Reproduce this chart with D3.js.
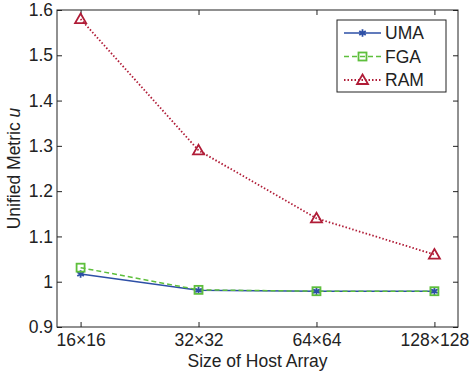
<!DOCTYPE html>
<html>
<head>
<meta charset="utf-8">
<script src="https://cdn.jsdelivr.net/npm/d3@7"></script>
<style>
body { margin: 0; background: #fff; }
text { font-family: "Liberation Sans", Arial, sans-serif; fill: #222; }
</style>
</head>
<body>
<div id="chart"></div>
<script>
var categories = ["16×16", "32×32", "64×64", "128×128"];
var umaValues = [1.017, 0.981, 0.979, 0.979];
var fgaValues = [1.031, 0.982, 0.979, 0.979];
var ramValues = [1.58, 1.29, 1.14, 1.06];
var yTicks = [0.9, 1, 1.1, 1.2, 1.3, 1.4, 1.5, 1.6];

var W = 470, H = 372;
var fs = "17.5px";
var margin = {top: 10, right: 12, bottom: 45, left: 57},
    width = W - margin.left - margin.right,
    height = H - margin.top - margin.bottom;

var svg = d3.select("#chart").append("svg")
    .attr("width", W).attr("height", H)
  .append("g")
    .attr("transform", "translate(" + margin.left + "," + margin.top + ")");

var x = d3.scaleLinear().domain([-0.2, categories.length - 0.8]).range([0, width]);
var y = d3.scaleLinear().domain([0.9, 1.6]).range([height, 0]);

// axes with inward ticks on all sides
var fmt = function(d) { return d3.format("")(+d.toFixed(1)); };
svg.append("g")
    .attr("transform", "translate(0," + height + ")")
    .call(d3.axisBottom(x).tickValues(d3.range(categories.length))
        .tickFormat(function(i) { return categories[i]; })
        .tickSize(-5).tickSizeOuter(0).tickPadding(7))
    .call(function(g) { g.select(".domain").remove(); })
    .selectAll("text").style("font-size", fs);
svg.append("g")
    .call(d3.axisTop(x).tickValues(d3.range(categories.length))
        .tickFormat("").tickSize(-5).tickSizeOuter(0))
    .call(function(g) { g.select(".domain").remove(); });
svg.append("g")
    .call(d3.axisLeft(y).tickValues(yTicks).tickFormat(fmt)
        .tickSize(-5).tickSizeOuter(0).tickPadding(4))
    .call(function(g) { g.select(".domain").remove(); })
    .selectAll("text").style("font-size", fs);
svg.append("g")
    .attr("transform", "translate(" + width + ",0)")
    .call(d3.axisRight(y).tickValues(yTicks).tickFormat("")
        .tickSize(-5).tickSizeOuter(0))
    .call(function(g) { g.select(".domain").remove(); });
svg.selectAll(".tick line").attr("stroke", "#222");

svg.append("rect")
    .attr("width", width).attr("height", height)
    .attr("fill", "none").attr("stroke", "#222").attr("stroke-width", 1);

// labels
svg.append("text")
    .attr("x", width / 2).attr("y", height + 40)
    .attr("text-anchor", "middle").style("font-size", fs)
    .text("Size of Host Array");
var yl = svg.append("text")
    .attr("transform", "translate(-37," + (height / 2) + ") rotate(-90)")
    .attr("text-anchor", "middle").style("font-size", fs);
yl.append("tspan").text("Unified Metric ");
yl.append("tspan").style("font-style", "italic").text("u");

var series = [
    {name: "UMA", values: umaValues, color: "#2d4fa6", dash: null, marker: "star"},
    {name: "FGA", values: fgaValues, color: "#5ebf3c", dash: "5,3", marker: "square"},
    {name: "RAM", values: ramValues, color: "#b01c37", dash: "1.5,2", marker: "triangle"}
];

var line = d3.line()
    .x(function(d, i) { return x(i); })
    .y(function(d) { return y(d); });

function drawMarker(g, s, cx, cy) {
    if (s.marker == "star") {
        g.append("path")
            .attr("d", d3.symbol().type(d3.symbolAsterisk).size(40)())
            .attr("transform", "translate(" + cx + "," + cy + ")")
            .attr("fill", "none").attr("stroke", s.color).attr("stroke-width", 1.8);
    } else if (s.marker == "square") {
        g.append("rect")
            .attr("x", cx - 4).attr("y", cy - 4).attr("width", 8).attr("height", 8)
            .attr("fill", "none").attr("stroke", s.color).attr("stroke-width", 1.8);
    } else {
        g.append("path")
            .attr("d", "M0,-5.5L5.5,4L-5.5,4Z")
            .attr("transform", "translate(" + cx + "," + cy + ")")
            .attr("fill", "none").attr("stroke", s.color).attr("stroke-width", 1.8);
    }
}

series.forEach(function(s) {
    svg.append("path")
        .datum(s.values)
        .attr("fill", "none")
        .attr("stroke", s.color)
        .attr("stroke-width", s.name == "RAM" ? 1.8 : 1.5)
        .attr("stroke-dasharray", s.dash)
        .attr("d", line);
});
series.forEach(function(s) {
    var g = svg.append("g");
    s.values.forEach(function(v, i) { drawMarker(g, s, x(i), y(v)); });
});

// legend
var lg = svg.append("g").attr("transform", "translate(" + (337 - margin.left) + "," + (20 - margin.top) + ")");
lg.append("rect").attr("width", 109).attr("height", 72)
    .attr("fill", "#fff").attr("stroke", "#222").attr("stroke-width", 1);
series.forEach(function(s, i) {
    var ly = 13 + i * 23.5;
    lg.append("line")
        .attr("x1", 7).attr("x2", 44).attr("y1", ly).attr("y2", ly)
        .attr("stroke", s.color).attr("stroke-width", s.name == "RAM" ? 1.8 : 1.5)
        .attr("stroke-dasharray", s.dash);
    drawMarker(lg, s, 25.5, ly);
    lg.append("text").attr("x", 48).attr("y", ly + 6)
        .style("font-size", fs).text(s.name);
});
</script>
</body>
</html>
